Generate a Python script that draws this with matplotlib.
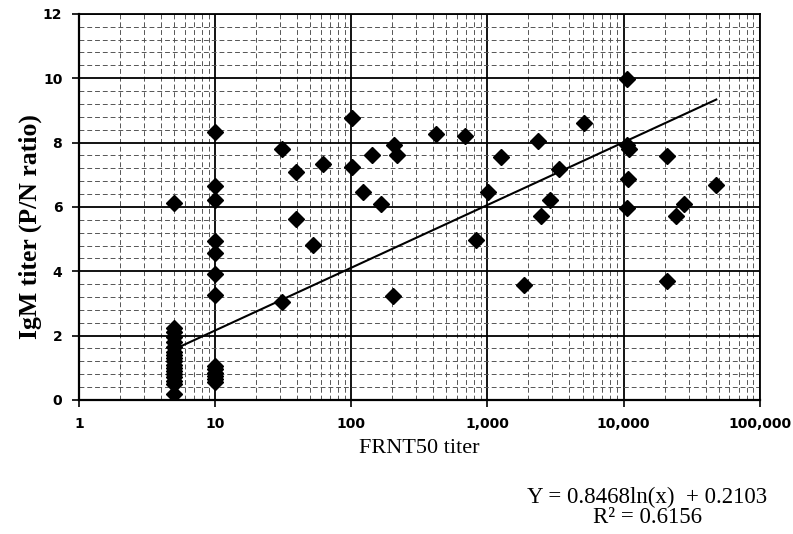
import numpy as np
import matplotlib
matplotlib.use("Agg")
import matplotlib.pyplot as plt
from matplotlib.ticker import FixedLocator, LogLocator, MultipleLocator, NullFormatter

# FRNT50 titer vs IgM P/N ratio
x_low = [5] * 18
y_low = [6.12, 2.25, 2.1, 1.95, 1.8, 1.65, 1.5, 1.4, 1.3, 1.2, 1.1, 1.0, 0.9, 0.8, 0.7, 0.6, 0.5, 0.18]
x_ten = [10] * 13
y_ten = [8.33, 6.65, 6.23, 4.95, 4.57, 3.9, 3.25, 1.05, 0.95, 0.85, 0.75, 0.65, 0.55]
x_rest = [31, 31, 39, 39, 52, 62, 102, 102, 122, 142, 165, 205, 215, 201,
          420, 680, 830, 1010, 1250, 1870, 2360, 2470, 2860, 3350, 5160,
          10600, 10600, 11000, 10800, 10600, 21000, 21000, 24400, 27700, 48000]
y_rest = [7.79, 3.06, 7.08, 5.64, 4.83, 7.34, 8.76, 7.24, 6.47, 7.61, 6.09, 7.91, 7.6, 3.22,
          8.26, 8.2, 4.98, 6.47, 7.55, 3.58, 8.05, 5.73, 6.2, 7.17, 8.6,
          9.97, 7.94, 7.79, 6.87, 5.97, 7.58, 3.7, 5.73, 6.09, 6.68]

fit_a, fit_b = 0.8468, 0.2103
fit_range = (5, 48000)

x_ticks = [1, 10, 100, 1000, 10000, 100000]
x_ticklabels = ["1", "10", "100", "1,000", "10,000", "100,000"]
y_ticks = [0, 2, 4, 6, 8, 10, 12]

xs = np.array(x_low + x_ten + x_rest, dtype=float)
ys = np.array(y_low + y_ten + y_rest, dtype=float)

fig = plt.figure(figsize=(7.93, 5.34), dpi=100)
ax = fig.add_axes([0.0996, 0.251, 0.8584, 0.723])

ax.set_xscale("log")
ax.set_xlim(1, 100000)
ax.set_ylim(0, 12)

# grid: solid majors, dashed minors
ax.xaxis.set_major_locator(FixedLocator(x_ticks))
ax.xaxis.set_minor_locator(LogLocator(base=10, subs=np.arange(2, 10)))
ax.xaxis.set_minor_formatter(NullFormatter())
ax.yaxis.set_major_locator(FixedLocator(y_ticks))
ax.yaxis.set_minor_locator(MultipleLocator(0.4))
ax.grid(which="major", color="black", lw=1.3, ls="-")
ax.grid(which="minor", color="#555555", lw=0.7, ls=(0, (5, 3)))
ax.set_axisbelow(True)

ax.plot(xs, ys, ls="none", marker="D", ms=8.5, color="black", zorder=3)

fx = np.logspace(np.log10(fit_range[0]), np.log10(fit_range[1]), 100)
ax.plot(fx, fit_a * np.log(fx) + fit_b, color="black", lw=1.5, zorder=4)

for s in ["top", "right"]:
    ax.spines[s].set_linewidth(1.3)
for s in ["left", "bottom"]:
    ax.spines[s].set_linewidth(1.6)

ax.set_xticklabels(x_ticklabels)
ax.tick_params(which="major", direction="out", length=5, width=1.2, pad=7,
               labelsize=10)
ax.tick_params(which="minor", length=0)
for lab in ax.get_xticklabels() + ax.get_yticklabels():
    lab.set_fontweight("bold")
    lab.set_family("DejaVu Sans")

ax.set_xlabel("FRNT50 titer", family="Liberation Serif", fontsize=16)
ax.xaxis.set_label_coords(0.5, -0.1)
ax.set_ylabel("IgM titer (P/N ratio)", family="Liberation Serif", fontsize=18.5,
              fontweight="bold", va="center")
ax.yaxis.set_label_coords(-0.072, 0.45)

fig.text(0.816, 0.069, "Y = 0.8468ln(x)  + 0.2103", family="Liberation Serif",
         fontsize=16.5, ha="center", va="center")
fig.text(0.816, 0.03, "R\u00b2 = 0.6156", family="Liberation Serif",
         fontsize=16.5, ha="center", va="center")

fig.savefig("out.png", dpi=100)
